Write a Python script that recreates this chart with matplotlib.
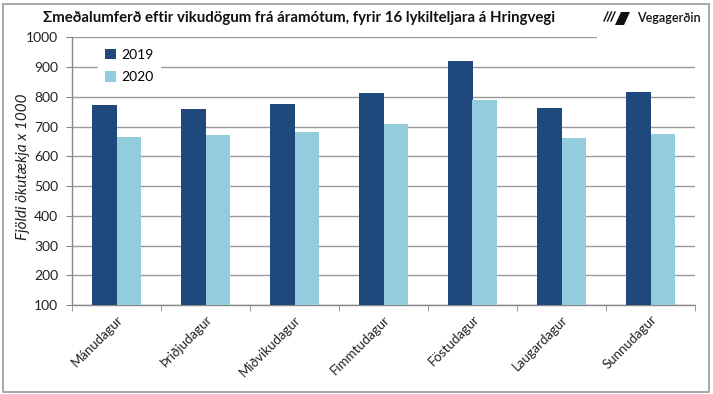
import matplotlib
matplotlib.use("Agg")
import matplotlib.pyplot as plt
import numpy as np
from matplotlib.patches import Rectangle, Polygon

categories = ["Mánudagur", "Þriðjudagur", "Miðvikudagur", "Fimmtudagur",
              "Föstudagur", "Laugardagur", "Sunnudagur"]
vals_2019 = [771, 758, 776, 812, 919, 762, 815]
vals_2020 = [665, 670, 683, 707, 790, 660, 675]
series_names = ["2019", "2020"]
title = "Σmeðalumferð eftir vikudögum frá áramótum, fyrir 16 lykilteljara á Hringvegi"
ylabel = "Fjöldi ökutækja x 1000"
yticks = list(range(100, 1001, 100))

plt.rcParams['font.family'] = ['Lato', 'DejaVu Sans']

fig = plt.figure(figsize=(7.13, 3.94), dpi=100)
ax = fig.add_axes([72/713, 1-305/394, (695-72)/713, (305-37.3)/394])

x = np.arange(len(categories))
w = 0.28
c19 = "#1F497D"
c20 = "#93CDDD"
ax.bar(x - w/2, vals_2019, w, color=c19, label=series_names[0], zorder=3)
ax.bar(x + w/2, vals_2020, w, color=c20, label=series_names[1], zorder=3)

ax.set_ylim(100, 1000)
ax.set_xlim(-0.5, len(categories) - 0.5)
ax.set_yticks(yticks)
ax.set_yticklabels([str(v) for v in yticks], fontsize=10, color="#222222")
ax.yaxis.grid(True, color="#9a9a9a", linewidth=1.0, zorder=0)
ax.set_axisbelow(True)

ax.set_xticks(x)
ax.set_xticklabels(categories, rotation=45, ha='right', rotation_mode='anchor',
                   fontsize=9.5, color="#222222")
ax.set_xticks(np.arange(-0.5, len(categories), 1.0), minor=True)
ax.tick_params(axis='x', which='major', length=0, pad=6)
ax.tick_params(axis='x', which='minor', length=4, color="#888888", direction='out')
ax.tick_params(axis='y', length=4, color="#888888", direction='out', pad=6)

for s in ["top", "right"]:
    ax.spines[s].set_visible(False)
for s in ["left", "bottom"]:
    ax.spines[s].set_color("#888888")
    ax.spines[s].set_linewidth(1.0)

ax.set_ylabel(ylabel, fontsize=11, style='italic', color="#222222")
ax.yaxis.set_label_coords(-0.068, 0.515)

leg = ax.legend(loc='upper left', bbox_to_anchor=(0.03, 1.01), frameon=True,
                fontsize=10, handlelength=0.8, handleheight=0.8,
                handletextpad=0.4, labelspacing=0.75, borderpad=0.5)
leg.get_frame().set_edgecolor("white")
leg.get_frame().set_facecolor("white")
leg.get_frame().set_alpha(1.0)

# white area behind the logo covering the top gridline
fig.patches.append(Rectangle((597/713, 1-40/394), 110/713, 35/394,
                             transform=fig.transFigure, facecolor="white",
                             edgecolor="none", zorder=5))

fig.text(43/713, 1-18/394, title, fontsize=10.8, fontweight='bold',
         color="#111111", va='center', ha='left', zorder=6)

# logo
fig.text(637/713, 1-18/394, "Vegagerðin", fontsize=9, fontweight='semibold',
         color="#111111", va='center', ha='left', zorder=6)
poly = [(615, 25), (621, 12), (630, 12), (624, 25)]
pts = [(px/713, 1-py/394) for px, py in poly]
fig.patches.append(Polygon(pts, closed=True, transform=fig.transFigure,
                           facecolor="#111111", edgecolor="none", zorder=6))
for k in range(3):
    x0 = 604 + k*3.5
    fig.add_artist(plt.Line2D([x0/713, (x0+4)/713], [1-21/394, 1-12/394],
                              transform=fig.transFigure, color="#111111",
                              linewidth=1.0, zorder=6))

# figure border
fig.patches.append(Rectangle((3/713, 1-392/394), 706/713, 388/394,
                             transform=fig.transFigure, facecolor="none",
                             edgecolor="#9a9a9a", linewidth=1.2, zorder=7))

fig.savefig("out.png", dpi=100)
